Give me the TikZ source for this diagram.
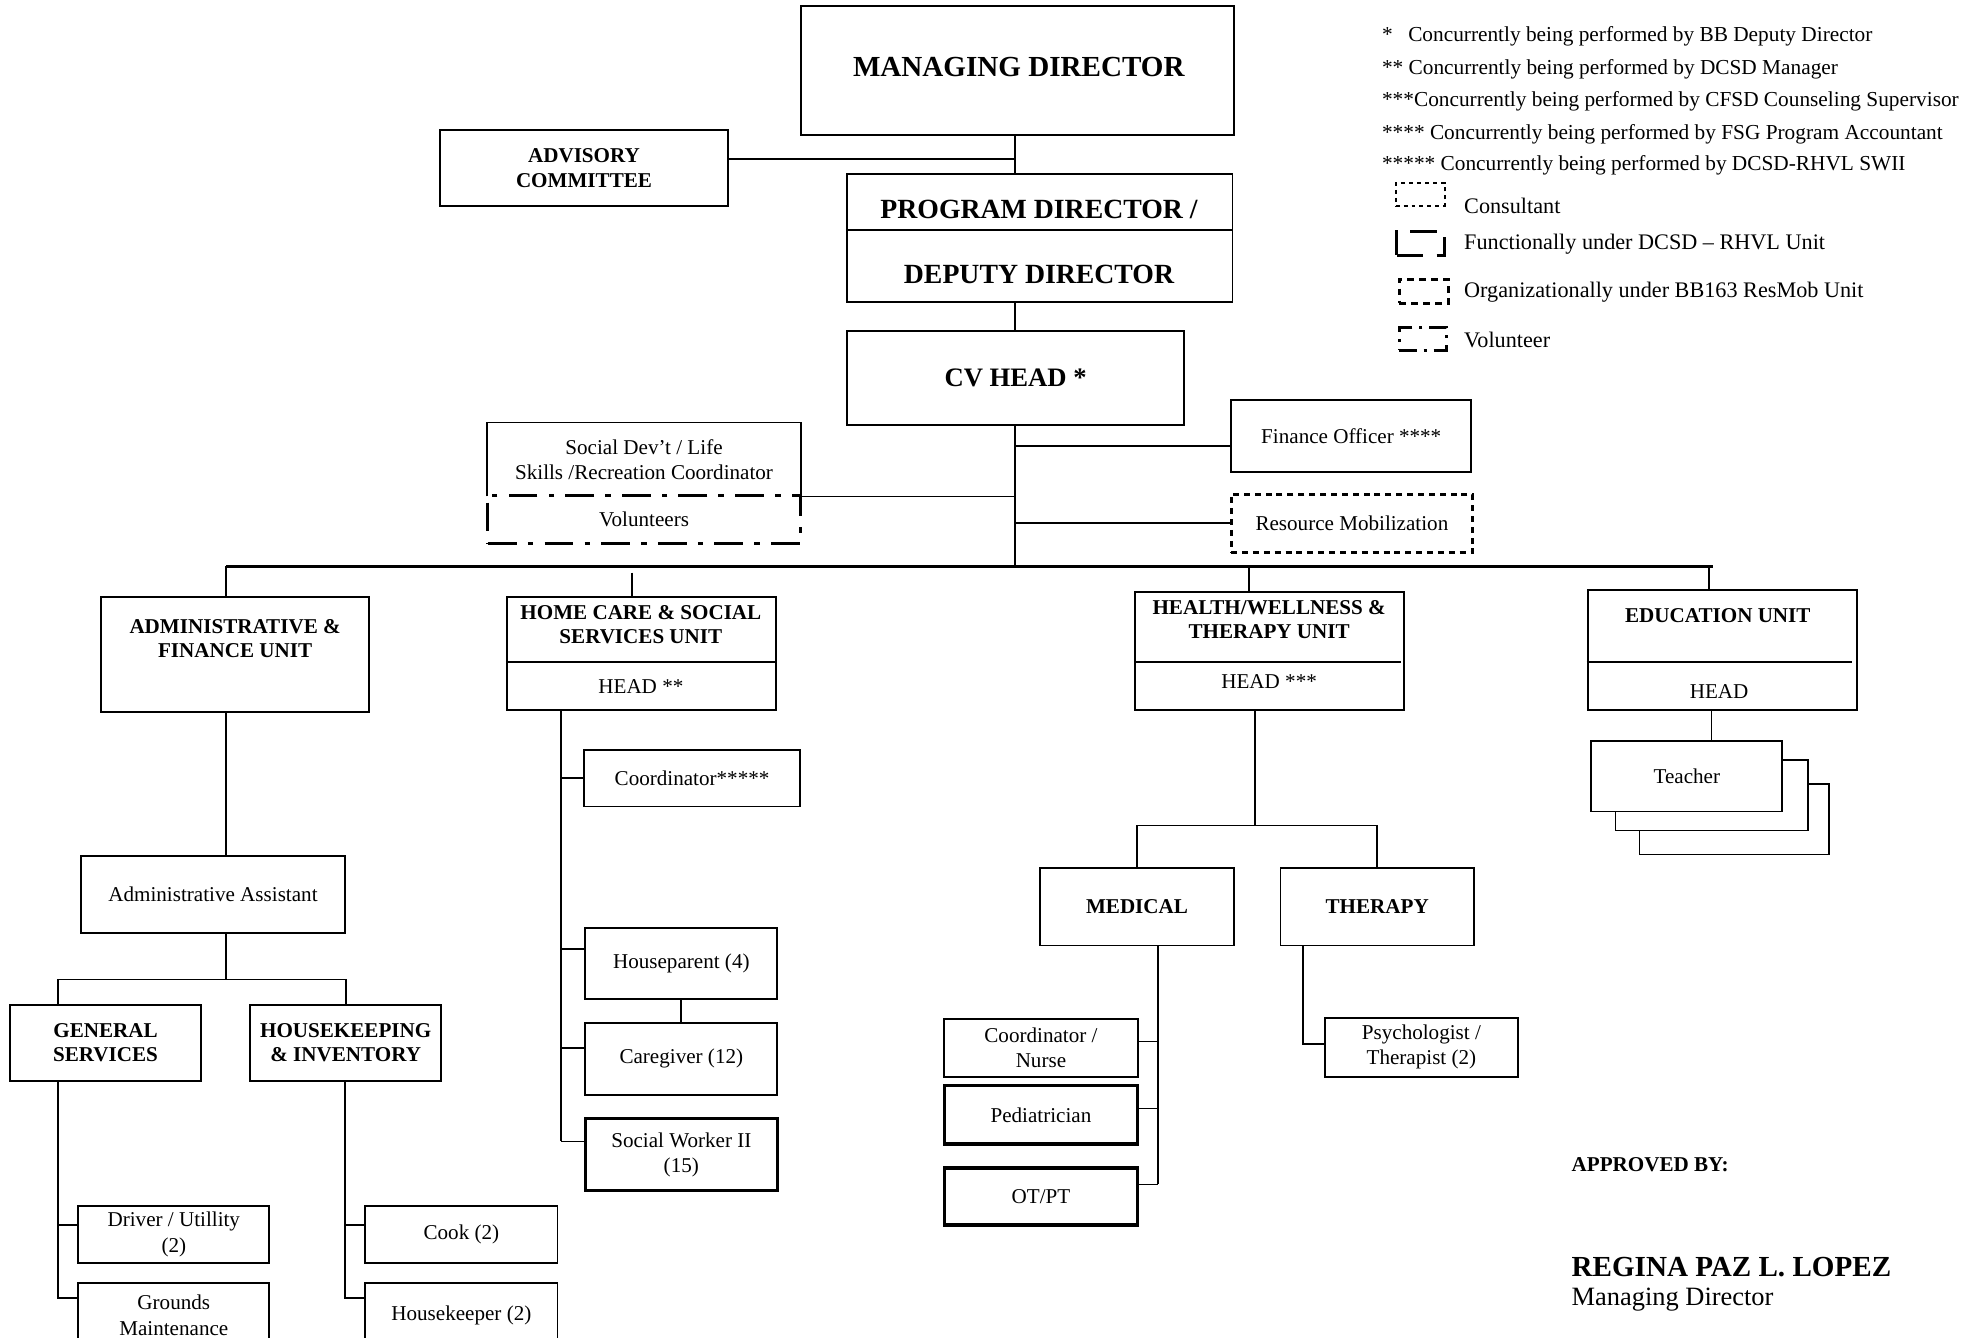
\documentclass[tikz,border=0pt]{standalone}
\usepackage{fontspec}
\setmainfont{Liberation Serif}
\usetikzlibrary{positioning}

\begin{document}
\begin{tikzpicture}[x=0.02cm, y=-0.02cm,
  sz/.style 2 args={minimum width=#1*0.02cm, minimum height=#2*0.02cm},
  box/.style={draw, line width=0.85pt, inner sep=0pt, align=center, font=\fontsize{9.5}{11.4}\selectfont},
  hbox/.style={box, line width=1.5pt},
  unitbox/.style={box, font=\fontsize{9.5}{11}\selectfont\bfseries},
  txt/.style={inner sep=0pt, align=center, font=\fontsize{9.5}{11.4}\selectfont},
  btxt/.style={txt, font=\fontsize{9.5}{11}\selectfont\bfseries},
  big/.style={txt, font=\fontsize{12.5}{15}\selectfont\bfseries},
  leg/.style={inner sep=0pt, anchor=west, font=\fontsize{9.6}{11}\selectfont},
  legb/.style={leg, font=\fontsize{10}{12}\selectfont},
  link/.style={line width=0.75pt},
  bus/.style={line width=1.2pt},
  consult/.style={dash pattern=on 1.8pt off 1.8pt, line width=0.9pt},
  resmob/.style={line width=1.3pt, dash pattern=on 2.7pt off 2.2pt},
  funct/.style={line width=1.2pt, dash pattern=on 12pt off 6pt},
  volun/.style={line width=1.3pt, dash pattern=on 13pt off 5pt on 2.5pt off 5pt},
]
\useasboundingbox (0,0) rectangle (1568,1058);
\clip (0,0) rectangle (1568,1058);

%nodes
\node[box, sz={342}{102}] (md) at (805,56) {};
\node[big, font=\fontsize{13.1}{15}\selectfont\bfseries] (mdt) at (806,53) {MANAGING DIRECTOR};
\node[unitbox, sz={228}{60}] (adv) at (462,133) {ADVISORY\\COMMITTEE};
\node[box, sz={305}{101}] (pd) at (822.5,188.5) {};
\node[big] (pdt) at (822,166) {PROGRAM DIRECTOR /};
\node[big] (ddt) at (822,217) {DEPUTY DIRECTOR};
\node[unitbox, font=\fontsize{12}{14}\selectfont\bfseries, sz={267}{74}] (cv) at (803.5,299) {CV HEAD *};
\node[box, sz={190}{57}] (fin) at (1069,345) {Finance Officer ****};
\node[box, resmob, sz={191}{46}] (rm) at (1069.5,414) {Resource Mobilization};
\node[box, draw=none, sz={247}{57}] (soc) at (509.5,363.5) {Social Dev’t / Life\\Skills /Recreation Coordinator};
\node[box, volun, sz={247}{38}] (vol) at (509.5,411) {Volunteers};

%units
\node[box, sz={212}{91}] (admin) at (186,517.5) {};
\node[btxt] (admt) at (186,505) {ADMINISTRATIVE \&\\FINANCE UNIT};
\node[box, sz={213}{90}] (hc) at (507.5,517) {};
\node[btxt] (hct) at (507,494) {HOME CARE \& SOCIAL\\SERVICES UNIT};
\node[txt] (hch) at (507,543) {HEAD **};
\node[box, sz={213}{94}] (hw) at (1004.5,515) {};
\node[btxt] (hwt) at (1004,490) {HEALTH/WELLNESS \&\\THERAPY UNIT};
\node[txt] (hwh) at (1004,539) {HEAD ***};
\node[box, sz={213}{95}] (edu) at (1362.5,514.5) {};
\node[btxt] (edut) at (1359,487) {EDUCATION UNIT};
\node[txt] (eduh) at (1360,547) {HEAD};

%admin side
\node[box, sz={209}{61}] (aa) at (168.5,707.5) {Administrative Assistant};
\node[unitbox, sz={151}{60}] (gs) at (83.5,825) {GENERAL\\SERVICES};
\node[unitbox, sz={151}{60}] (hk) at (273.5,825) {HOUSEKEEPING\\\& INVENTORY};
\node[box, sz={151}{45}] (drv) at (137.5,976.5) {Driver / Utillity\\(2)};
\node[box, sz={151}{51}] (gm) at (137.5,1040.5) {Grounds\\Maintenance};
\node[box, sz={152}{45}] (cook) at (365,976.5) {Cook (2)};
\node[box, sz={152}{51}] (hkp) at (365,1040.5) {Housekeeper (2)};

%home care side
\node[box, sz={171}{45}] (co) at (547.5,615.5) {Coordinator*****};
\node[box, sz={152}{56}] (hp) at (539,762) {Houseparent (4)};
\node[box, sz={152}{57}] (cg) at (539,837.5) {Caregiver (12)};
\node[hbox, sz={152}{57}] (sw) at (539,913.5) {Social Worker II\\(15)};

%health side
\node[unitbox, sz={153}{61}] (med) at (899.5,717.5) {MEDICAL};
\node[unitbox, sz={153}{61}] (ther) at (1089.5,717.5) {THERAPY};
\node[box, sz={153}{46}] (cn) at (823.5,829) {Coordinator /\\Nurse};
\node[hbox, sz={153}{46}] (ped) at (823.5,882) {Pediatrician};
\node[hbox, sz={153}{45}] (ot) at (823.5,946.5) {OT/PT};
\node[box, sz={153}{47}] (psy) at (1124.5,828.5) {Psychologist /\\Therapist (2)};

%education side
\node[box, fill=white, sz={150}{56}] (tch3) at (1372,648) {};
\node[box, fill=white, sz={152}{56}] (tch2) at (1354,629) {};
\node[box, fill=white, sz={151}{56}] (tch1) at (1334.5,614) {Teacher};

%approval
\node[leg, font=\fontsize{9.5}{11}\selectfont\bfseries] (appr) at (1243,921) {APPROVED BY:};
\node[leg, font=\fontsize{13.1}{15}\selectfont\bfseries] (sign) at (1243,1002) {REGINA PAZ L. LOPEZ};
\node[leg, font=\fontsize{11.9}{14}\selectfont] (signt) at (1243,1028) {Managing Director};

%legend
\node[leg] (lg1) at (1093,29) {*\hspace{7pt}Concurrently being performed by BB Deputy Director};
\node[leg] (lg2) at (1093,55) {** Concurrently being performed by DCSD Manager};
\node[leg] (lg3) at (1093,80) {***Concurrently being performed by CFSD Counseling Supervisor};
\node[leg] (lg4) at (1093,106) {**** Concurrently being performed by FSG Program Accountant};
\node[leg] (lg5) at (1093,131) {***** Concurrently being performed by DCSD-RHVL SWII};
\node[box, consult, sz={39}{18}] (icons) at (1123.5,154) {};
\node[legb] (lgs) at (1158,163) {Consultant};
\node[box, funct, sz={38}{19}] (iconf) at (1124,192.5) {};
\node[legb] (lgf) at (1158,193) {Functionally under DCSD -- RHVL Unit};
\node[box, line width=1.6pt, dash pattern=on 3pt off 2.4pt, sz={39}{19}] (icono) at (1126.5,230.5) {};
\node[legb] (lgo) at (1158,231) {Organizationally under BB163 ResMob Unit};
\node[box, volun, dash pattern=on 8pt off 3pt on 1.5pt off 3pt, sz={37}{18}] (iconv) at (1125.5,268) {};
\node[legb] (lgv) at (1158,269) {Volunteer};

%connectors
\coordinate (busL) at (179,448);
\coordinate (busR) at (1355,448);
\coordinate (cvbus) at (803,448);
\coordinate (advj) at (803,126);
\coordinate (finj) at (803,353);
\draw[line width=0.85pt] (soc.south west) |- (soc.north east) -- (soc.south east);
\draw[bus] (busL) -- (busR);
\draw[link] (md.south -| cvbus) -- (pd.north -| cvbus);
\draw[link] (adv.east |- advj) -- (advj);
\draw[line width=0.85pt] (pd.west |- 0,182) -- (pd.east |- 0,182);
\draw[link] (pd.south -| cvbus) -- (cv.north -| cvbus);
\draw[link] (cv.south -| cvbus) -- (cvbus);
\draw[link] (finj) -- (finj -| fin.west);
\draw[link] (rm.west -| cvbus) -- (rm.west);
\draw[link] (soc.south east) -- (soc.south east -| cvbus);

\coordinate (hcj) at (500,453);
\coordinate (hwk) at (988,448);
\coordinate (eduk) at (1352,448);
\draw[link] (busL) -- (busL |- admin.north);
\draw[link] (hcj) -- (hcj |- hc.north);
\draw[link] (hwk) -- (hwk |- hw.north);
\draw[link] (eduk) -- (eduk |- edu.north);
\draw[line width=0.85pt] (hc.west |- 0,524) -- (hc.east |- 0,524);
\draw[line width=0.85pt] (hw.west |- 0,524) -- (1108,524);
\draw[line width=0.85pt] (edu.west |- 0,524) -- (1465,524);

%admin connectors
\coordinate (aaj) at (179,775);
\coordinate (gsj) at (46,775);
\coordinate (gsD) at (46,969);
\coordinate (gsE) at (46,1027);
\coordinate (hkD) at (273,969);
\coordinate (hkE) at (273,1027);
\draw[link] (admin.south -| busL) -- (aa.north -| busL);
\draw[link] (aa.south -| aaj) -- (aaj);
\draw[link] (gs.north -| gsj) -- (gsj) -| (hk.north);
\draw[link] (gs.south -| gsE) -- (gsE) -- (gsE -| gm.west);
\draw[link] (gsD) -- (gsD -| drv.west);
\draw[link] (hk.south -| hkE) -- (hkE) -- (hkE -| hkp.west);
\draw[link] (hkD) -- (hkD -| cook.west);

%home care connectors
\coordinate (hcB) at (444,751);
\coordinate (hcC) at (444,829);
\coordinate (hcD) at (444,903);
\draw[link] (hc.south -| hcD) -- (hcD);
\draw[link] (co.west -| hcD) -- (co.west);
\draw[link] (hcB) -- (hcB -| hp.west);
\draw[link] (hcC) -- (hcC -| cg.west);
\draw[link] (hcD) -- (hcD -| sw.west);
\draw[link] (hp.south) -- (cg.north);

%health connectors
\coordinate (hwj) at (993,653);
\coordinate (mdA) at (916,824);
\coordinate (mdB) at (916,877);
\coordinate (mdC) at (916,937);
\coordinate (thj) at (1031,826);
\draw[link] (hw.south -| hwj) -- (hwj);
\draw[link] (med.north) |- (hwj) -| (ther.north);
\draw[link] (med.south -| mdC) -- (mdC);
\draw[link] (mdA) -- (mdA -| cn.east);
\draw[link] (mdB) -- (mdB -| ped.east);
\draw[link] (mdC) -- (mdC -| ot.east);
\draw[link] (ther.south -| thj) -- (thj) -- (thj -| psy.west);

%education connector
\coordinate (eduj) at (1354,586);
\draw[link] (edu.south -| eduj) -- (eduj);
\end{tikzpicture}
\end{document}
